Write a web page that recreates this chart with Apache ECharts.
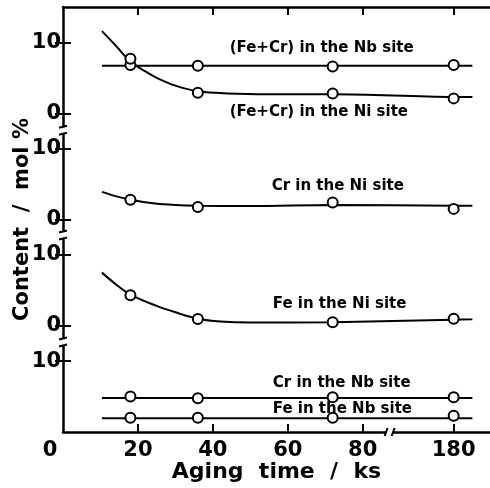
<!DOCTYPE html>
<html>
<head>
<meta charset="utf-8">
<script src="https://cdn.jsdelivr.net/npm/echarts@6/dist/echarts.min.js"></script>
<style>html,body{margin:0;padding:0;background:#fff;}#c{width:490px;height:488px;}</style>
</head>
<body>
<div id="c"></div>
<script>
// ---- data (content in mol%) ----
const agingTimes = [18, 36, 72, 180];            // ks
const feCrNbSite = [6.8, 6.7, 6.6, 6.8];
const feCrNiSite = [7.7, 2.9, 2.8, 2.1];
const crNiSite   = [2.8, 1.75, 2.4, 1.5];
const feNiSite   = [4.3, 0.95, 0.5, 1.0];
const crNbSite   = [5.0, 4.75, 4.9, 4.9];
const feNbSite   = [2.0, 2.0, 2.0, 2.3];

// hand-traced guide curves [time ks, mol%]
const feCrNbCurve = [[10.4, 6.7], [185, 6.7]];
const feCrNiCurve = [[10.4, 11.6], [14, 9.6], [18, 7.3], [22, 5.9], [25, 5.0], [30, 3.9], [36, 3.1], [44, 2.8], [55, 2.7], [72, 2.7], [180, 2.3], [185, 2.3]];
const crNiCurve   = [[10.4, 3.9], [14, 3.3], [18, 2.8], [24, 2.3], [30, 2.05], [36, 1.95], [50, 1.9], [72, 2.05], [180, 1.95], [185, 1.95]];
const feNiCurve   = [[10.4, 7.5], [14, 5.9], [18, 4.4], [25, 2.8], [30, 1.9], [36, 1.0], [42, 0.6], [50, 0.45], [72, 0.5], [180, 0.85], [185, 0.9]];
const crNbCurve   = [[10.4, 4.8], [185, 4.8]];
const feNbCurve   = [[10.4, 1.95], [185, 1.95]];

const xTickLabels = [0, 20, 40, 60, 80, 180];
const seriesNames = ['(Fe+Cr) in the Nb site', '(Fe+Cr) in the Ni site', 'Cr in the Ni site', 'Fe in the Ni site', 'Cr in the Nb site', 'Fe in the Nb site'];
const seriesPanel = [0, 0, 1, 2, 3, 3];
// annotation anchor [time, mol%] (left edge, vertical centre)
const labelAnchors = [[44.5, 9.2], [44.5, 0.2], [55.7, 4.7], [56, 3.0], [56, 6.9], [56, 3.3]];

// ---- broken axes ----
const BREAK_AT = 85, BREAK_SHIFT = 75.7;          // x: 85..~161 ks removed
const PANEL_STEP = 15;                              // each panel is 15 units tall
const pos = t => (t > BREAK_AT ? t - BREAK_SHIFT : t);
const yOff = p => (3 - p) * PANEL_STEP;

const pointSets = [feCrNbSite, feCrNiSite, crNiSite, feNiSite, crNbSite, feNbSite];
const curveSets = [feCrNbCurve, feCrNiCurve, crNiCurve, feNiCurve, crNbCurve, feNbCurve];

const FONT = 'DejaVu Sans';
const series = [];
curveSets.forEach((c, i) => {
  series.push({
    type: 'line', smooth: 0.35, symbol: 'none', silent: true,
    lineStyle: { color: '#000', width: 2 },
    data: c.map(d => [pos(d[0]), d[1] + yOff(seriesPanel[i])]), z: 3
  });
});
pointSets.forEach((vals, i) => {
  series.push({
    type: 'scatter', symbol: 'circle', symbolSize: 10,
    itemStyle: { color: '#fff', borderColor: '#000', borderWidth: 2, opacity: 1 },
    data: vals.map((v, k) => [pos(agingTimes[k]), v + yOff(seriesPanel[i])]), z: 5
  });
});
series.push({
  type: 'scatter', symbolSize: 0, z: 6,
  itemStyle: { opacity: 1 },
  label: { show: true, position: 'right', distance: 0, color: '#000', opacity: 1, fontFamily: FONT, fontWeight: 'bold', fontSize: 15,
    formatter: p => p.data[2] },
  data: labelAnchors.map((a, i) => [a[0], a[1] + yOff(seriesPanel[i]), seriesNames[i]])
});
// axis break marks
const yBreaks = [12.7, 27.8, 42.6];
const xBreaks = [87.2];
series.push({
  type: 'custom', z: 10, clip: false, silent: true,
  data: yBreaks.map(y => [0, y, 'y']).concat(xBreaks.map(x => [x, 0, 'x'])),
  renderItem: (params, api) => {
    const c = api.coord([api.value(0), api.value(1)]);
    const kind = api.value(2);
    const s = { stroke: '#000', lineWidth: 2, fill: null };
    if (kind === 'y') {
      return { type: 'group', children: [
        { type: 'rect', shape: { x: c[0] - 3, y: c[1] - 3, width: 6, height: 6 }, style: { fill: '#fff' } },
        { type: 'polyline', shape: { points: [[c[0] - 4, c[1] - 2.5], [c[0] + 4, c[1] - 4.5]] }, style: s },
        { type: 'polyline', shape: { points: [[c[0] - 4, c[1] + 4.5], [c[0] + 4, c[1] + 2.5]] }, style: s }
      ]};
    }
    return { type: 'group', children: [
      { type: 'rect', shape: { x: c[0] - 3, y: c[1] - 3, width: 6, height: 6 }, style: { fill: '#fff' } },
      { type: 'polyline', shape: { points: [[c[0] - 5, c[1] + 4], [c[0] - 2, c[1] - 4]] }, style: s },
      { type: 'polyline', shape: { points: [[c[0] + 2, c[1] + 4], [c[0] + 5, c[1] - 4]] }, style: s }
    ]};
  }
});

const xTickPos = xTickLabels.map(pos);
const yTickPos = [10, 15, 25, 30, 40, 45, 55];
const axisLine = { show: true, onZero: false, lineStyle: { color: '#000', width: 2.5 } };
const tick = (vals) => ({ show: true, inside: true, length: 8, customValues: vals, lineStyle: { color: '#000', width: 2 } });

const option = {
  animation: false,
  backgroundColor: '#fff',
  grid: { left: 63, top: 7, right: 0, bottom: 56, containLabel: false, outerBoundsMode: 'none' },
  xAxis: [{
    type: 'value', min: 0, max: 114, position: 'bottom',
    axisLine, axisTick: tick(xTickPos.slice(1)), splitLine: { show: false },
    axisLabel: { customValues: xTickPos, margin: 8, color: '#000', fontFamily: FONT, fontWeight: 'bold', fontSize: 21,
      formatter: v => (v === 0 ? '{z|0}' : String(xTickLabels[xTickPos.indexOf(v)])),
      rich: { z: { padding: [0, 26, 0, 0], fontFamily: FONT, fontWeight: 'bold', fontSize: 21, color: '#000' } } },
    name: 'Aging  time  /  ks', nameLocation: 'middle', nameGap: 29, nameMoveOverlap: false,
    nameTextStyle: { color: '#000', fontFamily: FONT, fontWeight: 'bold', fontSize: 22 }
  }, {
    type: 'value', min: 0, max: 114, position: 'top',
    axisLine, axisTick: tick(xTickPos.slice(1)), axisLabel: { show: false }, splitLine: { show: false }
  }],
  yAxis: [{
    type: 'value', min: 0, max: 60, position: 'left',
    axisLine, axisTick: tick(yTickPos), splitLine: { show: false },
    axisLabel: { customValues: yTickPos, margin: 2, color: '#000', fontFamily: FONT, fontWeight: 'bold', fontSize: 21,
      formatter: v => String(v % PANEL_STEP === 0 ? 0 : 10) },
    name: 'Content  /  mol %', nameLocation: 'middle', nameGap: 30, nameRotate: 90, nameMoveOverlap: false,
    nameTextStyle: { color: '#000', fontFamily: FONT, fontWeight: 'bold', fontSize: 21 }
  }, {
    type: 'value', min: 0, max: 60, position: 'right',
    axisLine: { show: false }, axisTick: tick(yTickPos), axisLabel: { show: false }, splitLine: { show: false }
  }],
  series
};
echarts.init(document.getElementById('c')).setOption(option);
</script>
</body>
</html>
